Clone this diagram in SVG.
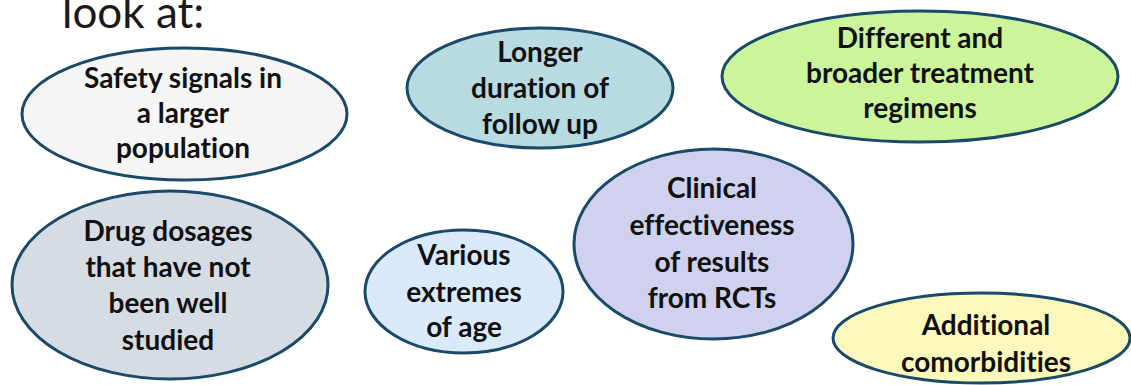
<svg xmlns="http://www.w3.org/2000/svg" width="1131" height="385" viewBox="0 0 1131 385">
<style>
.bub{stroke:#1a4a68;stroke-width:3}
.t{font-family:Lato,"Open Sans","Liberation Sans",sans-serif;font-weight:bold;font-size:28px;fill:#111;text-anchor:middle;font-variant-ligatures:none}
.h{font-family:Lato,"Open Sans","Liberation Sans",sans-serif;font-size:44px;fill:#1a1a1a}
</style>
<rect width="1131" height="385" fill="#ffffff"/>
<text class="h" x="62" y="28">look at:</text>
<g id="connectors"></g>
<g id="n-safety">
<ellipse class="bub" cx="184.5" cy="114" rx="162.5" ry="66" fill="#f5f5f5"/>
<text class="t" x="183" y="88">Safety signals in</text>
<text class="t" x="183" y="123">a larger</text>
<text class="t" x="183" y="158">population</text>
</g>
<g id="n-drug">
<ellipse class="bub" cx="170" cy="285" rx="158" ry="94" fill="#d6dce4"/>
<text class="t" x="168" y="241">Drug dosages</text>
<text class="t" x="168" y="277">that have not</text>
<text class="t" x="168" y="313">been well</text>
<text class="t" x="168" y="350">studied</text>
</g>
<g id="n-longer">
<ellipse class="bub" cx="540" cy="88" rx="133" ry="60" fill="#b7dbe0"/>
<text class="t" x="540" y="62">Longer</text>
<text class="t" x="540" y="98">duration of</text>
<text class="t" x="540" y="134">follow up</text>
</g>
<g id="n-different">
<ellipse class="bub" cx="920" cy="76.5" rx="198" ry="65.5" fill="#ccf59b"/>
<text class="t" x="920" y="48">Different and</text>
<text class="t" x="920" y="83">broader treatment</text>
<text class="t" x="920" y="118">regimens</text>
</g>
<g id="n-various">
<ellipse class="bub" cx="464" cy="291.5" rx="99" ry="61.5" fill="#dbeafa"/>
<text class="t" x="464" y="265">Various</text>
<text class="t" x="464" y="302">extremes</text>
<text class="t" x="464" y="337">of age</text>
</g>
<g id="n-clinical">
<ellipse class="bub" cx="713.5" cy="244" rx="139.5" ry="95" fill="#cfd1ee"/>
<text class="t" x="712" y="198">Clinical</text>
<text class="t" x="712" y="235">effectiveness</text>
<text class="t" x="712" y="272">of results</text>
<text class="t" x="712" y="308">from RCTs</text>
</g>
<g id="n-additional">
<ellipse class="bub" cx="981.5" cy="338" rx="148.5" ry="45" fill="#fbf8bc"/>
<text class="t" x="986" y="335">Additional</text>
<text class="t" x="986" y="372">comorbidities</text>
</g>
</svg>
